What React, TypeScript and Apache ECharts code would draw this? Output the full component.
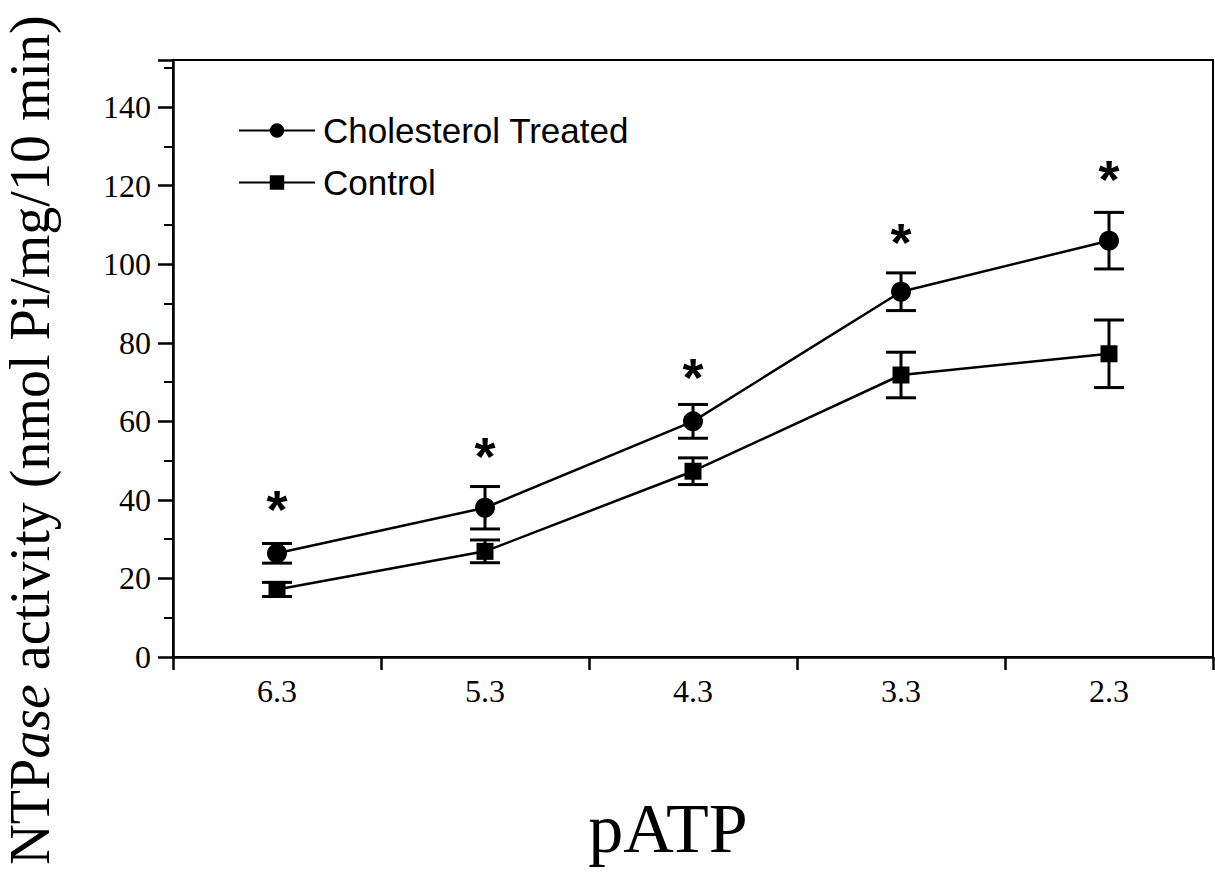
import React, { useEffect, useRef } from "react";
import * as echarts from "echarts";

const categories = ["6.3", "5.3", "4.3", "3.3", "2.3"];
const cholMean = [26.4, 38, 60, 93, 106];
const cholErr = [2.5, 5.4, 4.3, 4.8, 7.2];
const ctrlMean = [17.2, 26.9, 47.3, 71.8, 77.2];
const ctrlErr = [1.8, 2.9, 3.4, 5.8, 8.6];
const starY = [41, 54.4, 74.5, 108.9, 125];
const yTicks = [0, 20, 40, 60, 80, 100, 120, 140];

const SERIF = "Liberation Serif";
const SANS = "Liberation Sans";

function errData(mean: number[], err: number[]) {
  return mean.map((m, i) => [i, m - err[i], m + err[i]]);
}

function errRender(params: any, api: any) {
  const i = api.value(0);
  const lo = api.coord([i, api.value(1)]);
  const hi = api.coord([i, api.value(2)]);
  const w = 15;
  const st = { stroke: "#000", lineWidth: 3 };
  return {
    type: "group",
    children: [
      { type: "line", shape: { x1: lo[0], y1: lo[1], x2: hi[0], y2: hi[1] }, style: st },
      { type: "line", shape: { x1: lo[0] - w, y1: lo[1], x2: lo[0] + w, y2: lo[1] }, style: st },
      { type: "line", shape: { x1: hi[0] - w, y1: hi[1], x2: hi[0] + w, y2: hi[1] }, style: st },
    ],
  };
}

export default function App() {
  const ref = useRef<HTMLDivElement>(null);
  useEffect(() => {
    if (!ref.current) return;
    const chart = echarts.init(ref.current, null, { renderer: "svg" });
    chart.setOption({
      animation: false,
      backgroundColor: "#fff",
      grid: {
        left: 173,
        right: 2,
        top: 60,
        bottom: 235,
        show: true,
        borderColor: "#000",
        borderWidth: 2,
      },
      legend: {
        orient: "vertical",
        left: 238,
        top: 113,
        padding: 0,
        itemWidth: 76,
        itemHeight: 18,
        itemGap: 17,
        textStyle: { fontFamily: SANS, fontSize: 35, color: "#000", padding: [0, 0, 0, 3] },
        data: ["Cholesterol Treated", "Control"],
      },
      xAxis: {
        type: "category",
        data: categories,
        boundaryGap: true,
        axisLine: { lineStyle: { color: "#000", width: 2.5 } },
        axisTick: { show: true, interval: 0, length: 13, inside: false, lineStyle: { color: "#000", width: 2.5 } },
        axisLabel: { fontFamily: SERIF, fontSize: 32, color: "#000", margin: 18 },
        splitLine: { show: false },
      },
      yAxis: {
        type: "value",
        min: 0,
        max: 152,
        interval: 20,
        axisLine: { show: true, lineStyle: { color: "#000", width: 2.5 } },
        axisTick: { show: true, length: 15, lineStyle: { color: "#000", width: 2.5 } },
        minorTick: { show: true, splitNumber: 2, length: 9, lineStyle: { color: "#000", width: 2 } },
        axisLabel: {
          fontFamily: SERIF,
          fontSize: 32,
          color: "#000",
          margin: 22,
          showMaxLabel: false,
          formatter: (v: number) => (yTicks.indexOf(v) >= 0 ? String(v) : ""),
        },
        splitLine: { show: false },
      },
      graphic: [
        {
          type: "text",
          x: 30,
          y: 440,
          rotation: Math.PI / 2,
          style: {
            text: "{n|NTP}{i|ase}{n| activity (nmol Pi/mg/10 min)}",
            align: "center",
            verticalAlign: "middle",
            fill: "#000",
            rich: {
              n: { fontFamily: SERIF, fontSize: 56, fill: "#000" },
              i: { fontFamily: SERIF, fontSize: 56, fontStyle: "italic", fill: "#000" },
            },
          },
        },
        {
          type: "text",
          x: 668,
          y: 828,
          style: {
            text: "pATP",
            font: `70px "${SERIF}"`,
            align: "center",
            verticalAlign: "middle",
            fill: "#000",
          },
        },
      ],
      series: [
        {
          type: "custom",
          name: "errChol",
          renderItem: errRender,
          data: errData(cholMean, cholErr),
          encode: { x: 0, y: [1, 2] },
          z: 1,
          silent: true,
        },
        {
          type: "custom",
          name: "errCtrl",
          renderItem: errRender,
          data: errData(ctrlMean, ctrlErr),
          encode: { x: 0, y: [1, 2] },
          z: 1,
          silent: true,
        },
        {
          type: "line",
          name: "Cholesterol Treated",
          data: cholMean,
          symbol: "circle",
          symbolSize: 20,
          itemStyle: { color: "#000" },
          lineStyle: { color: "#000", width: 2.5 },
          z: 3,
        },
        {
          type: "line",
          name: "Control",
          data: ctrlMean,
          symbol: "rect",
          symbolSize: 17,
          itemStyle: { color: "#000" },
          lineStyle: { color: "#000", width: 2.5 },
          z: 3,
        },
        {
          type: "scatter",
          name: "sig",
          data: starY.map((v, i) => [i, v]),
          symbolSize: 1,
          itemStyle: { color: "transparent", opacity: 1 },
          label: {
            show: true,
            position: "inside",
            formatter: "*",
            fontFamily: SANS,
            fontWeight: "bold",
            fontSize: 54,
            color: "#000",
            opacity: 1,
            textBorderWidth: 0,
            offset: [0, 13],
          },
          silent: true,
        },
      ],
    });
    return () => chart.dispose();
  }, []);
  return (
    <div
      ref={ref}
      style={{ position: "fixed", left: 0, top: 0, width: 1215, height: 892, background: "#fff" }}
    />
  );
}
